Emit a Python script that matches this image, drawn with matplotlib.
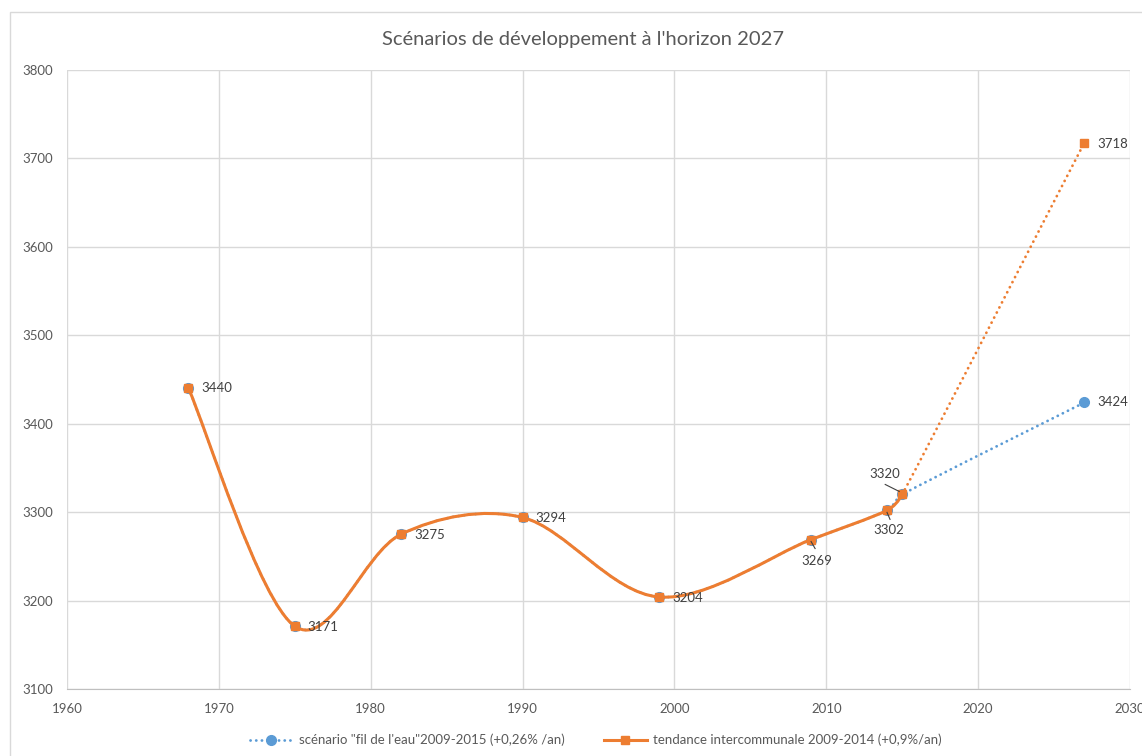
import matplotlib
matplotlib.use("Agg")
import matplotlib.pyplot as plt
import numpy as np
from matplotlib.path import Path
from matplotlib.patches import PathPatch, Rectangle
from matplotlib.lines import Line2D

plt.rcParams['font.family'] = ['Lato', 'DejaVu Sans']

# ---- data ----
years = [1968, 1975, 1982, 1990, 1999, 2009, 2014, 2015, 2027]
fil_de_leau = [3440, 3171, 3275, 3294, 3204, 3269, 3302, 3320, 3424]
tendance = [3440, 3171, 3275, 3294, 3204, 3269, 3302, 3320, 3718]
series_names = ['scénario "fil de l\'eau"2009-2015 (+0,26% /an)',
                'tendance intercommunale 2009-2014 (+0,9%/an)']
title = "Scénarios de développement à l'horizon 2027"
x_ticks = [1960, 1970, 1980, 1990, 2000, 2010, 2020, 2030]
y_ticks = [3100, 3200, 3300, 3400, 3500, 3600, 3700, 3800]

BLUE = '#5B9BD5'
ORANGE = '#ED7D31'
TXT = '#595959'
GRID = '#D9D9D9'
DOTS = (0, (0.05, 2.0))

W, H = 1142, 756
fig = plt.figure(figsize=(W / 100, H / 100), dpi=100)
fig.patches.append(Rectangle((10 / W, -0.1), 1.2, 1.1 - 12 / H, transform=fig.transFigure,
                             fill=False, edgecolor=GRID, linewidth=1.0, zorder=0))

ax = fig.add_axes([67 / W, 1 - 689 / H, (1130 - 67) / W, (689 - 70) / H])
ax.set_xlim(x_ticks[0], x_ticks[-1])
ax.set_ylim(y_ticks[0], y_ticks[-1])
ax.set_xticks(x_ticks)
ax.set_yticks(y_ticks)
ax.grid(True, color=GRID, linewidth=1.0)
ax.set_axisbelow(True)
for s in ['top', 'right', 'left']:
    ax.spines[s].set_visible(False)
ax.spines['bottom'].set_color('#BFBFBF')
ax.tick_params(length=0, colors=TXT, labelsize=9.5)
ax.tick_params(axis='x', pad=10)
ax.tick_params(axis='y', pad=10)


def smooth_segments(xs, ys):
    """Bezier segments (display-space smoothing like a spreadsheet 'smoothed line')."""
    pts = ax.transData.transform(np.column_stack([xs, ys]))
    n = len(pts)
    tang = [(pts[min(i + 1, n - 1)] - pts[max(i - 1, 0)]) / 6.0 for i in range(n)]
    segs = []
    for i in range(n - 1):
        p0, p1 = pts[i], pts[i + 1]
        L = np.hypot(*(p1 - p0))
        t0, t1 = tang[i].copy(), tang[i + 1].copy()
        for t in (t0, t1):
            m = np.hypot(*t)
            if m > L / 3.0:
                t *= (L / 3.0) / m
        c1 = p0 + t0
        c2 = p1 - t1
        segs.append(ax.transData.inverted().transform(np.array([p0, c1, c2, p1])))
    return segs


def path_from(segs):
    verts, codes = [], []
    for k, s in enumerate(segs):
        if k == 0:
            verts.append(s[0]); codes.append(Path.MOVETO)
        verts.extend([s[1], s[2], s[3]]); codes.extend([Path.CURVE4] * 3)
    return Path(verts, codes)


fig.canvas.draw()
segs_b = smooth_segments(years, fil_de_leau)
segs_o = smooth_segments(years, tendance)

ax.add_patch(PathPatch(path_from(segs_b), fill=False, edgecolor=BLUE, linewidth=2.0,
                       linestyle=DOTS, capstyle='round', zorder=3))
ax.plot(years, fil_de_leau, 'o', color=BLUE, markersize=7, zorder=4)

ax.add_patch(PathPatch(path_from(segs_o[:-1]), fill=False, edgecolor=ORANGE, linewidth=2.2,
                       capstyle='round', joinstyle='round', zorder=5))
ax.add_patch(PathPatch(path_from(segs_o[-1:]), fill=False, edgecolor=ORANGE, linewidth=2.0,
                       linestyle=DOTS, capstyle='round', zorder=5))
ax.plot(years, tendance, 's', color=ORANGE, markersize=6, zorder=6)

# data labels
lab_kw = dict(textcoords='offset pixels', fontsize=9.5, color='#404040', zorder=7)
offsets_o = {1968: (13, 0, 'left'), 1975: (13, -1, 'left'), 1982: (13, -1, 'left'),
             1990: (13, -1, 'left'), 1999: (13, -1, 'left'), 2009: (6, -21, 'center'),
             2014: (2, -20, 'center'), 2015: (-17, 20, 'center'), 2027: (13, -1, 'left')}
for x, y in zip(years, tendance):
    dx, dy, ha = offsets_o[x]
    ax.annotate(str(y), (x, y), xytext=(dx, dy), ha=ha, va='center', **lab_kw)
ax.annotate(str(fil_de_leau[-1]), (years[-1], fil_de_leau[-1]), xytext=(13, 0),
            ha='left', va='center', **lab_kw)

# leader lines
leader = dict(color='#404040', linewidth=0.8, zorder=7)
for (x, y), (a, b) in [((2009, 3269), ((0, -2), (4, -9))),
                       ((2014, 3302), ((0, -2), (3, -9))),
                       ((2015, 3320), ((-3, 3), (-17, 10)))]:
    p = ax.transData.transform((x, y))
    q = ax.transData.inverted().transform([p + np.array(a), p + np.array(b)])
    ax.plot(q[:, 0], q[:, 1], **leader)

fig.text(583 / W, 1 - 40 / H, title, ha='center', va='center', fontsize=14.5, color=TXT)

handles = [Line2D([], [], color=BLUE, linestyle=DOTS, linewidth=2.0,
                  marker='o', markersize=7, dash_capstyle='round'),
           Line2D([], [], color=ORANGE, linewidth=2.2, marker='s', markersize=6)]
fig.legend(handles, series_names, loc='center', bbox_to_anchor=(596 / W, 1 - 740 / H),
           ncol=2, frameon=False, fontsize=9.5, labelcolor=TXT, handlelength=3.2,
           columnspacing=3.0, handletextpad=0.5)

fig.savefig('out.png', dpi=100)
